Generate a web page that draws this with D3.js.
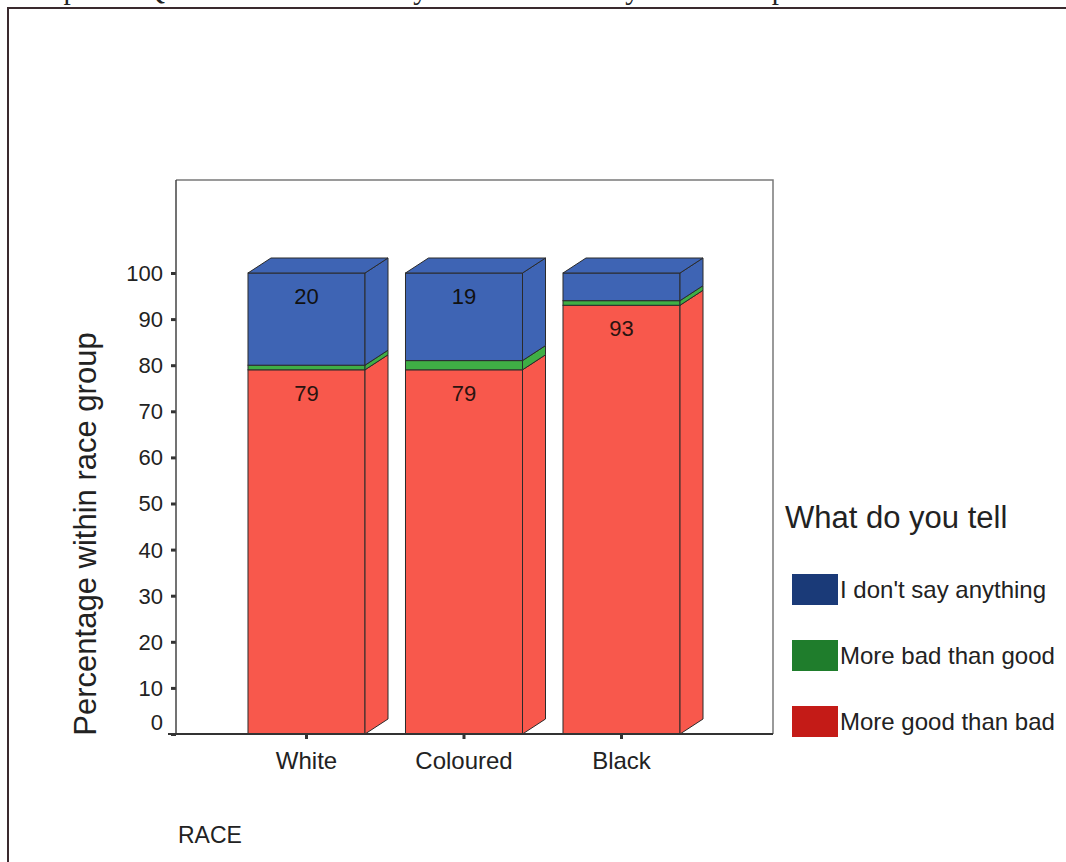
<!DOCTYPE html>
<html>
<head>
<meta charset="utf-8">
<script src="https://cdn.jsdelivr.net/npm/d3@7"></script>
<style>
  html, body { margin: 0; padding: 0; background: #fff; }
  svg { display: block; }
</style>
</head>
<body>
<svg id="chart" width="1066" height="862"></svg>
<script>
// Stacked 3D bars: share of each answer within a race group
const categories = ["White", "Coloured", "Black"];
const seriesNames = ["More good than bad", "More bad than good", "I don't say anything"];
const goodValues = [79, 79, 93];
const badValues = [1, 2, 1];
const silentValues = [20, 19, 6];
const yTickValues = [0, 10, 20, 30, 40, 50, 60, 70, 80, 90, 100];
const legendOrder = ["I don't say anything", "More bad than good", "More good than bad"];

const faceColors = {
  "More good than bad": "#f8584c",
  "More bad than good": "#3fae45",
  "I don't say anything": "#3e64b4"
};
const swatchColors = {
  "More good than bad": "#c41b17",
  "More bad than good": "#1f7d2c",
  "I don't say anything": "#1a3a78"
};

const svg = d3.select("#chart");
const font = "Liberation Sans, Arial, sans-serif";

// Page caption (runs off the top edge)
svg.append("text")
  .attr("x", 20).attr("y", -1)
  .attr("font-family", "Liberation Serif, Times New Roman, serif")
  .attr("font-size", 29)
  .attr("fill", "#222")
  .text("Graph 20: Question 20 : What do you tell children by Race Group");

// Outer frame
svg.append("path")
  .attr("d", "M8,870 L8,8 L1080,8")
  .attr("fill", "none").attr("stroke", "#3a2a2e").attr("stroke-width", 2);

const plotLeft = 176, plotRight = 773, plotTop = 180;

const x = d3.scaleBand()
  .domain(categories)
  .range([227.75, 700.25])
  .paddingInner(0.257)
  .paddingOuter(0.1285);

const y = d3.scaleLinear().domain([0, 100]).range([734, 273]);

// depth offset of the 3D extrusion
const depthX = 23, depthY = -15;

// stack the data
const rows = categories.map((c, i) => ({
  category: c,
  "More good than bad": goodValues[i],
  "More bad than good": badValues[i],
  "I don't say anything": silentValues[i]
}));
const stacked = d3.stack().keys(seriesNames)(rows);

// plot frame (top and right edges)
svg.append("path")
  .attr("d", `M${plotLeft},${plotTop} L${plotRight},${plotTop} L${plotRight},${y(0)}`)
  .attr("fill", "none").attr("stroke", "#7a7a7a").attr("stroke-width", 1.5);

// bars
const barsG = svg.append("g");
categories.forEach((c, ci) => {
  const x0 = x(c), x1 = x(c) + x.bandwidth();
  const g = barsG.append("g");
  stacked.forEach(layer => {
    const key = layer.key;
    const [v0, v1] = layer[ci];
    if (v1 - v0 <= 0) return;
    const yb = y(v0), yt = y(v1);
    // front face
    g.append("rect")
      .attr("x", x0).attr("y", yt)
      .attr("width", x1 - x0).attr("height", yb - yt)
      .attr("fill", faceColors[key])
      .attr("stroke", "#2b2b2b").attr("stroke-width", 1);
    // side face
    g.append("path")
      .attr("d", `M${x1},${yb} L${x1 + depthX},${yb + depthY} L${x1 + depthX},${yt + depthY} L${x1},${yt} Z`)
      .attr("fill", faceColors[key])
      .attr("stroke", "#2b2b2b").attr("stroke-width", 1).attr("stroke-linejoin", "round");
  });
  // top face of the topmost segment
  const topLayer = stacked[stacked.length - 1];
  const yt = y(topLayer[ci][1]);
  g.append("path")
    .attr("d", `M${x0},${yt} L${x0 + depthX},${yt + depthY} L${x1 + depthX},${yt + depthY} L${x1},${yt} Z`)
    .attr("fill", faceColors[topLayer.key])
    .attr("stroke", "#2b2b2b").attr("stroke-width", 1).attr("stroke-linejoin", "round");
});

// value labels near the top of the larger segments
const labelled = ["More good than bad", "I don't say anything"];
stacked.forEach(layer => {
  if (!labelled.includes(layer.key)) return;
  layer.forEach((d, ci) => {
    const v = d[1] - d[0];
    if (v < 10) return;
    svg.append("text")
      .attr("x", x(categories[ci]) + x.bandwidth() / 2)
      .attr("y", y(d[1]) + 31)
      .attr("text-anchor", "middle")
      .attr("font-family", font).attr("font-size", 22)
      .attr("fill", layer.key === "More good than bad" ? "#2a1410" : "#111")
      .text(v);
  });
});

// y axis
const yAxis = svg.append("g")
  .attr("transform", `translate(${plotLeft},0)`)
  .call(d3.axisLeft(y).tickValues(yTickValues).tickSize(5).tickPadding(8).tickFormat(d3.format("d")));
yAxis.select(".domain").remove();
yAxis.selectAll(".tick line").attr("stroke", "#333").attr("stroke-width", 3);
yAxis.selectAll(".tick text")
  .attr("font-family", font).attr("font-size", 22).attr("fill", "#222")
  .attr("dy", d => d === 0 ? "-0.2em" : "0.34em");
svg.append("line")
  .attr("x1", plotLeft).attr("x2", plotLeft)
  .attr("y1", plotTop).attr("y2", y(0))
  .attr("stroke", "#444").attr("stroke-width", 1.5);

// x axis
const xAxis = svg.append("g")
  .attr("transform", `translate(0,${y(0)})`)
  .call(d3.axisBottom(x).tickSize(5).tickPadding(13));
xAxis.select(".domain").remove();
xAxis.selectAll(".tick line").attr("stroke", "#333").attr("stroke-width", 3);
xAxis.selectAll(".tick text")
  .attr("font-family", font).attr("font-size", 24).attr("fill", "#222");
svg.append("line")
  .attr("x1", 168).attr("x2", plotRight)
  .attr("y1", y(0)).attr("y2", y(0))
  .attr("stroke", "#333").attr("stroke-width", 2);

// axis titles
svg.append("text")
  .attr("transform", `translate(96,${534}) rotate(-90)`)
  .attr("text-anchor", "middle")
  .attr("font-family", font).attr("font-size", 31).attr("fill", "#222")
  .text("Percentage within race group");

svg.append("text")
  .attr("x", 178).attr("y", 843)
  .attr("font-family", font).attr("font-size", 23).attr("fill", "#222")
  .text("RACE");

// legend
const legend = svg.append("g");
legend.append("text")
  .attr("x", 785).attr("y", 528)
  .attr("font-family", font).attr("font-size", 31).attr("fill", "#222")
  .text("What do you tell");
const legendY = d3.scalePoint().domain(legendOrder).range([590, 722]);
legendOrder.forEach(k => {
  legend.append("rect")
    .attr("x", 792).attr("y", legendY(k) - 16)
    .attr("width", 46).attr("height", 31)
    .attr("fill", swatchColors[k]);
  legend.append("text")
    .attr("x", 840).attr("y", legendY(k) + 8)
    .attr("font-family", font).attr("font-size", 24).attr("fill", "#222")
    .text(k);
});
</script>
</body>
</html>
